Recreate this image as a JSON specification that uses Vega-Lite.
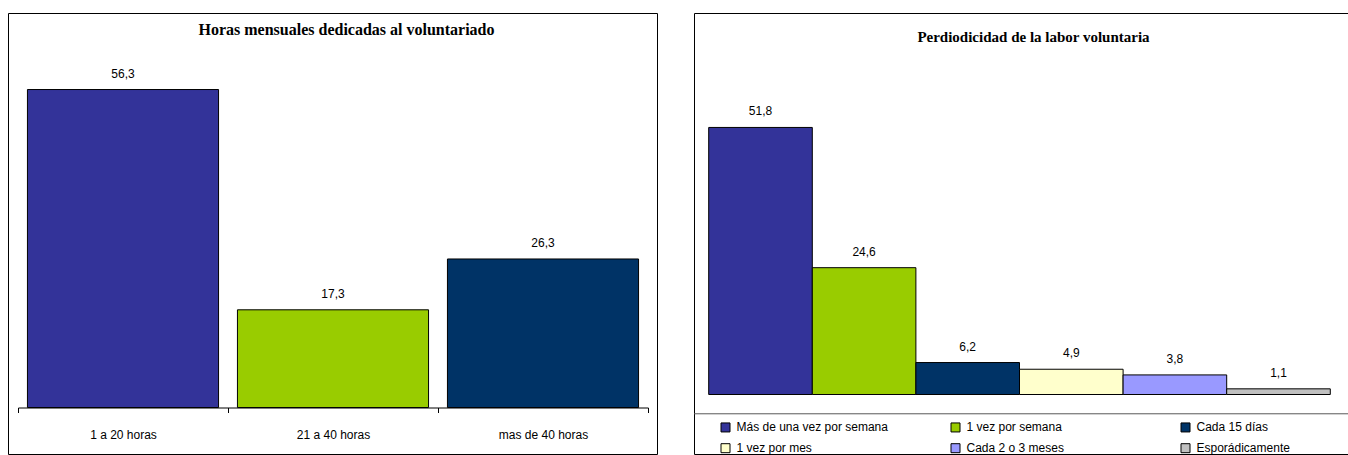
{
  "$schema": "https://vega.github.io/schema/vega-lite/v6.json",
  "padding": {"left": 7, "top": 12, "right": 0, "bottom": 0},
  "spacing": 35,
  "config": {
    "view": {"stroke": "#000", "strokeWidth": 1},
    "font": "Liberation Sans",
    "locale": {"number": {"decimal": ",", "thousands": ".", "grouping": [3], "currency": ["", " €"]}}
  },
  "resolve": {"scale": {"x": "independent", "y": "independent", "color": "independent"}},
  "hconcat": [
    {
      "width": 649,
      "height": 441,
      "title": {"text": "Horas mensuales dedicadas al voluntariado", "font": "Liberation Serif", "fontSize": 16, "fontWeight": "bold", "color": "#000", "anchor": "middle", "frame": "group", "baseline": "alphabetic", "offset": -37.6, "dx": 14},
      "data": {"values": [
        {"cat": "1 a 20 horas", "value": 56.3},
        {"cat": "21 a 40 horas", "value": 17.3},
        {"cat": "mas de 40 horas", "value": 26.3}
      ]},
      "encoding": {
        "x": {"field": "cat", "type": "nominal", "sort": null,
          "scale": {"range": [10, 640], "paddingInner": 0, "paddingOuter": 0},
          "axis": {"title": null, "labelAngle": 0, "domainColor": "#000", "domainWidth": 1, "tickColor": "#000", "tickWidth": 1, "tickSize": 5, "tickBand": "extent", "labelFont": "Liberation Sans", "labelFontSize": 12, "labelColor": "#000", "labelBaseline": "middle", "labelPadding": 22, "offset": -46.5}}
      },
      "layer": [
        {
          "mark": {"type": "bar", "stroke": "#000", "strokeWidth": 1, "width": {"band": 0.91}},
          "encoding": {
            "y": {"field": "value", "type": "quantitative", "scale": {"domain": [-8.23, 69.85], "nice": false, "zero": false}, "axis": null},
            "y2": {"datum": 0},
            "color": {"field": "cat", "type": "nominal", "sort": null, "scale": {"domain": ["1 a 20 horas", "21 a 40 horas", "mas de 40 horas"], "range": ["#333399", "#99CC00", "#003366"]}, "legend": null}
          }
        },
        {
          "mark": {"type": "text", "dy": -16, "baseline": "middle", "font": "Liberation Sans", "fontSize": 12, "color": "#000"},
          "encoding": {
            "y": {"field": "value", "type": "quantitative"},
            "text": {"field": "value", "type": "quantitative", "format": ".1f"}
          }
        }
      ]
    },
    {
      "width": 655,
      "height": 441,
      "title": {"text": "Perdiodicidad de la labor voluntaria", "font": "Liberation Serif", "fontSize": 15, "fontWeight": "bold", "color": "#000", "anchor": "middle", "frame": "group", "baseline": "alphabetic", "offset": -44, "dx": 12},
      "data": {"values": [
        {"cat": "Más de una vez por semana", "value": 51.8},
        {"cat": "1 vez por semana", "value": 24.6},
        {"cat": "Cada 15 días", "value": 6.2},
        {"cat": "1 vez por mes", "value": 4.9},
        {"cat": "Cada 2 o 3 meses", "value": 3.8},
        {"cat": "Esporádicamente", "value": 1.1}
      ]},
      "layer": [
        {
          "mark": {"type": "bar", "stroke": "#000", "strokeWidth": 1},
          "encoding": {
            "x": {"field": "cat", "type": "nominal", "sort": null, "scale": {"range": [14.7, 636.3], "paddingInner": 0, "paddingOuter": 0}, "axis": null},
            "y": {"field": "value", "type": "quantitative", "scale": {"domain": [-11.54, 74.0], "nice": false, "zero": false}, "axis": null},
            "y2": {"datum": 0},
            "color": {"field": "cat", "type": "nominal", "sort": null,
              "scale": {"domain": ["Más de una vez por semana", "1 vez por semana", "Cada 15 días", "1 vez por mes", "Cada 2 o 3 meses", "Esporádicamente"], "range": ["#333399", "#99CC00", "#003366", "#FFFFCC", "#9999FF", "#C0C0C0"]},
              "legend": {"title": null, "orient": "none", "legendX": 25.5, "legendY": 408.2, "direction": "horizontal", "columns": 3, "gridAlign": "all", "columnPadding": 60, "rowPadding": 7, "padding": 0, "symbolType": "square", "symbolSize": 81, "symbolStrokeColor": "#000", "symbolStrokeWidth": 1, "symbolOpacity": 1, "labelFont": "Liberation Sans", "labelFontSize": 12, "labelColor": "#000", "labelOffset": 5, "labelLimit": 0}}
          }
        },
        {
          "mark": {"type": "text", "dy": -16, "baseline": "middle", "font": "Liberation Sans", "fontSize": 12, "color": "#000"},
          "encoding": {
            "x": {"field": "cat", "type": "nominal", "sort": null},
            "y": {"field": "value", "type": "quantitative"},
            "text": {"field": "value", "type": "quantitative", "format": ".1f"}
          }
        },
        {
          "data": {"values": [{"sep": -3.74}]},
          "mark": {"type": "rule", "color": "#595959", "strokeWidth": 1},
          "encoding": {
            "y": {"field": "sep", "type": "quantitative"}
          }
        }
      ]
    }
  ]
}
